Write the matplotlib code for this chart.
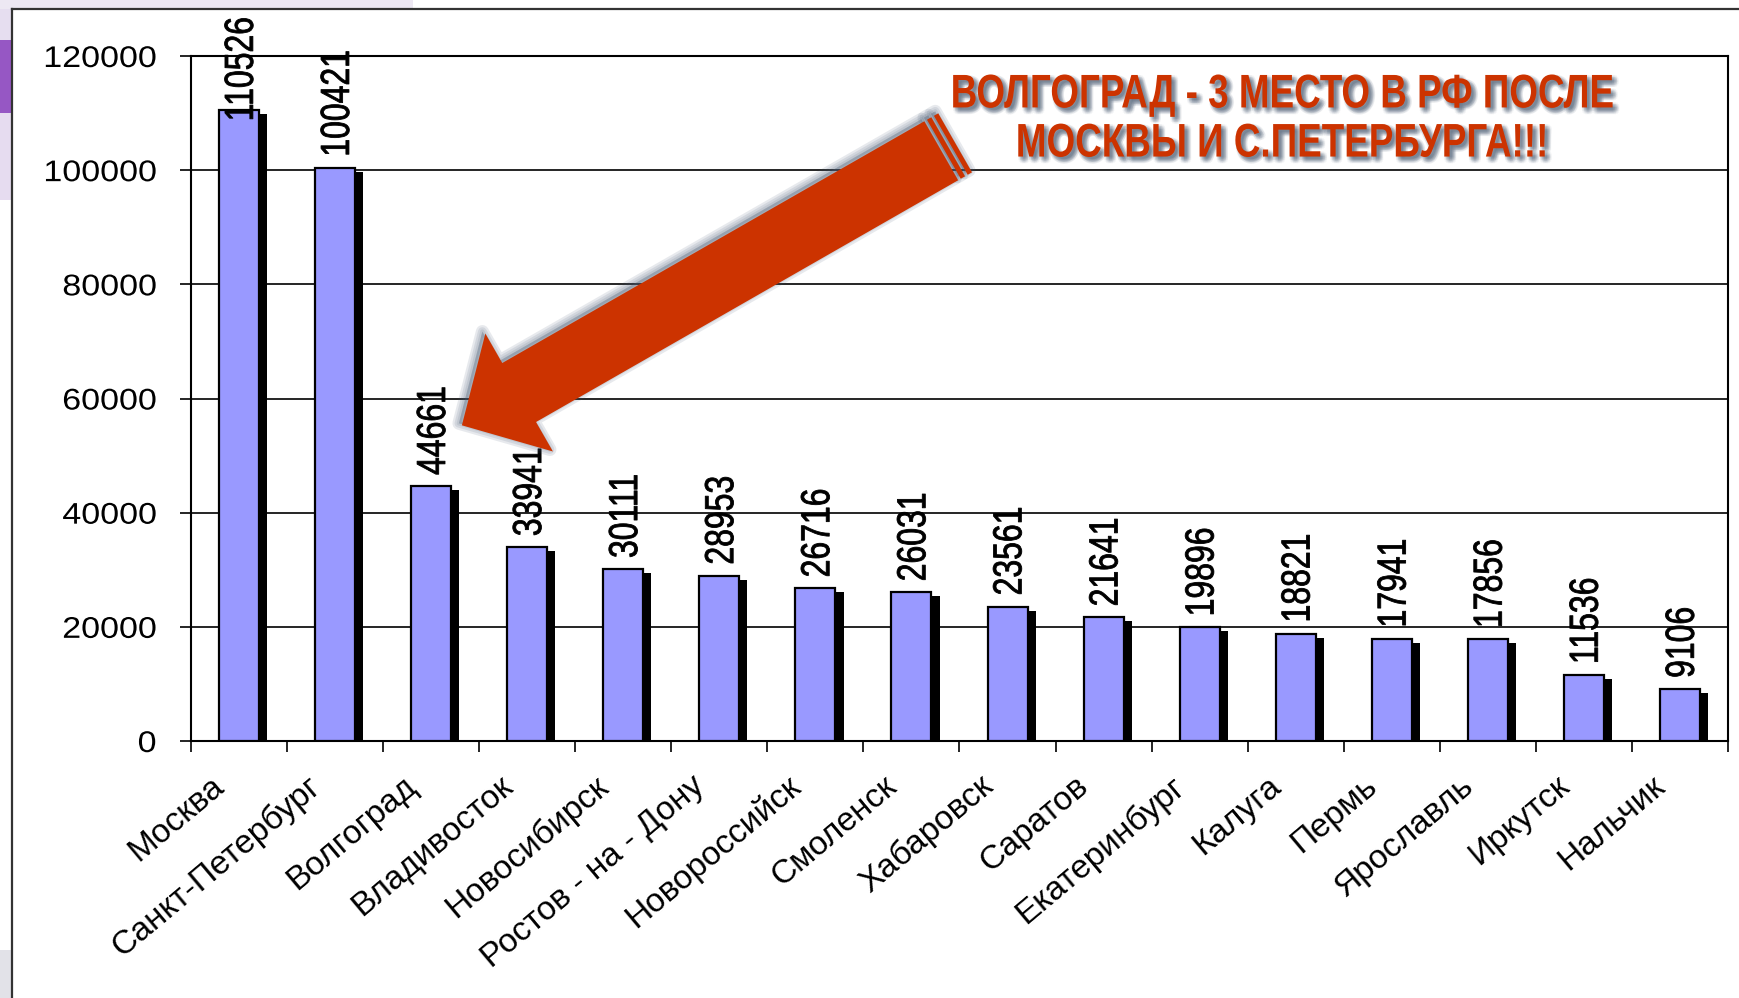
import numpy as np
import matplotlib
matplotlib.use("Agg")
import matplotlib.pyplot as plt
import matplotlib.patheffects as pe
from matplotlib.patches import Polygon, Rectangle
from matplotlib.lines import Line2D
from matplotlib.transforms import IdentityTransform, Affine2D

# данные
cities = ["Москва", "Санкт-Петербург", "Волгоград", "Владивосток", "Новосибирск",
          "Ростов - на - Дону", "Новороссийск", "Смоленск", "Хабаровск", "Саратов",
          "Екатеринбург", "Калуга", "Пермь", "Ярославль", "Иркутск", "Нальчик"]
counts = [110526, 100421, 44661, 33941, 30111, 28953, 26716, 26031, 23561, 21641,
          19896, 18821, 17941, 17856, 11536, 9106]
y_ticks = [0, 20000, 40000, 60000, 80000, 100000, 120000]
note = "ВОЛГОГРАД - 3 МЕСТО В РФ ПОСЛЕ\nМОСКВЫ И С.ПЕТЕРБУРГА!!!"

# arrow from the note down to Volgograd (data coords)
arrow_tip = (2.32, 55300)
arrow_tail = (7.31, 103400)

W, H, DPI = 1740, 998, 100
BAR = "#9999FF"
RED = "#CC3300"
SHADOW = "#4A5C74"

plt.rcParams["font.family"] = ["Liberation Sans", "DejaVu Sans"]


class Squeeze(pe.AbstractPathEffect):
    """scale glyph outlines (no narrow fonts installed), optionally wrapping another effect"""

    def __init__(self, sx=1.0, sy=1.0, fix="center", inner=None):
        super().__init__()
        self.sx, self.sy, self.fix, self.inner = sx, sy, fix, inner

    def draw_path(self, renderer, gc, tpath, affine, rgbFace=None):
        ext = tpath.get_extents(affine)
        cx, cy = (ext.x0 + ext.x1) / 2, (ext.y0 + ext.y1) / 2
        if self.fix == "bottom":
            cy = ext.y0
        elif self.fix == "right":
            cx = ext.x1
        t = affine + Affine2D().translate(-cx, -cy).scale(self.sx, self.sy).translate(cx, cy)
        if self.inner is None:
            renderer.draw_path(gc, tpath, t, rgbFace)
        else:
            self.inner.draw_path(renderer, gc, tpath, t, rgbFace)


fig = plt.figure(figsize=(W / DPI, H / DPI), dpi=DPI)
fig.patch.set_facecolor("white")


def fx(px):
    return px / W


def fy(py):
    return 1 - py / H


# slide background peeking out at the left
for (x0, y0, x1, y1, c) in [(0, 0, 413, 9, "#EDE8F3"), (0, 9, 12, 40, "#E6DEF0"),
                            (0, 40, 12, 113, "#9657C4"), (0, 113, 12, 200, "#E6DCF0"),
                            (0, 950, 12, 998, "#E2E2E8")]:
    fig.add_artist(Rectangle((fx(x0), fy(y1)), fx(x1 - x0), (y1 - y0) / H,
                             transform=fig.transFigure, color=c, lw=0, zorder=0))
fig.add_artist(Line2D([fx(12), fx(1740)], [fy(9), fy(9)], transform=fig.transFigure,
                      color="#333333", lw=1.6))
fig.add_artist(Line2D([fx(12), fx(12)], [fy(9), fy(998)], transform=fig.transFigure,
                      color="#333333", lw=1.6))

ax = fig.add_axes([fx(191), fy(741), fx(1728 - 191), (741 - 56) / H])
x = np.arange(len(cities))
vals = np.array(counts)

ax.bar(x + 0.085, vals - 700, width=0.416, color="black", zorder=2)
ax.bar(x, vals, width=0.416, color=BAR, edgecolor="black", linewidth=1.6, zorder=3)

ax.set_xlim(-0.5, len(cities) - 0.5)
ax.set_ylim(0, 120000)
ax.set_yticks(y_ticks)
ax.set_yticklabels([str(t) for t in y_ticks], fontsize=21.5)
ax.yaxis.grid(True, color="black", linewidth=1.2)
ax.set_axisbelow(True)
ax.tick_params(axis="y", length=8, width=1.2, pad=17)

ax.set_xticks(np.arange(-0.5, len(cities), 1))
ax.set_xticklabels([])
ax.tick_params(axis="x", which="major", length=8, width=1.2)
ax.set_xticks(x - 0.3, minor=True)
ax.set_xticklabels(cities, minor=True, fontsize=24, rotation=40, ha="right", va="top",
                   rotation_mode="anchor")
ax.tick_params(axis="x", which="minor", length=0, pad=21)
for s in ax.spines.values():
    s.set_color("black")
    s.set_linewidth(1.5)

# value labels: tall narrow digits -> stretch across the text direction
value_fx = [Squeeze(sx=1.27, inner=pe.Stroke(linewidth=0.6, foreground="black"))]
labels = []
for xi, v in zip(x, counts):
    t = ax.annotate(str(v), (xi + 0.03, v), xytext=(0, 8), textcoords="offset points",
                    rotation=90, ha="center", va="bottom", fontsize=23, zorder=5,
                    annotation_clip=False, path_effects=value_fx)
    labels.append(t)

fig.canvas.draw()
r = fig.canvas.get_renderer()
for t in labels:
    bb = t.get_window_extent(r)
    if bb.y1 > H - 17:
        shift = (bb.y1 - (H - 17)) * 72 / DPI
        t.xyann = (0, 8 - shift)
for tk in ax.yaxis.get_major_ticks():
    tk.label1.set_path_effects([Squeeze(sx=1.14, fix="right")])

# big arrow
tip = ax.transData.transform(arrow_tip)
tail = ax.transData.transform(arrow_tail)
u = (tail - tip) / np.hypot(*(tail - tip))
n = np.array([u[1], -u[0]])
L = np.hypot(*(tail - tip))
sw, hw, hl = 34, 68, 66


def P(a, b):
    return tip + a * u + b * n


body = [P(0, 0), P(hl, hw), P(hl, sw), P(L, sw), P(L, -sw), P(hl, -sw), P(hl, -hw)]
stripes = [[P(L + a, sw), P(L + a + 5, sw), P(L + a + 5, -sw), P(L + a, -sw)] for a in (3, 11)]

for rad in (9, 6, 3):
    for shape in [body] + stripes:
        sh = np.array(shape) + np.array([-3, 2])
        fig.add_artist(Polygon(sh, closed=True, transform=IdentityTransform(),
                               facecolor=SHADOW, edgecolor=SHADOW, lw=rad * 1.44 * 0.72,
                               alpha=0.13, joinstyle="round", zorder=6))
for shape in [body] + stripes:
    fig.add_artist(Polygon(np.array(shape), closed=True, transform=IdentityTransform(),
                           facecolor=RED, edgecolor="none", zorder=7))

# note text with soft shadow, squeezed to look like a narrow bold face
NSQ = 0.78
effects = []
for ang in np.linspace(0, 2 * np.pi, 12, endpoint=False):
    for rr in (1.2, 2.4):
        sh = pe.SimplePatchShadow(offset=(2.5 + rr * np.cos(ang), -2.5 + rr * np.sin(ang)),
                                  shadow_rgbFace=SHADOW, alpha=0.06)
        effects.append(Squeeze(sx=NSQ, inner=sh))
effects.append(Squeeze(sx=NSQ))
fig.text(fx(1282), fy(120), note, ha="center", va="center", fontsize=34, fontweight="bold",
         color=RED, linespacing=1.15, path_effects=effects, zorder=8)

fig.savefig("out.png", dpi=DPI)
